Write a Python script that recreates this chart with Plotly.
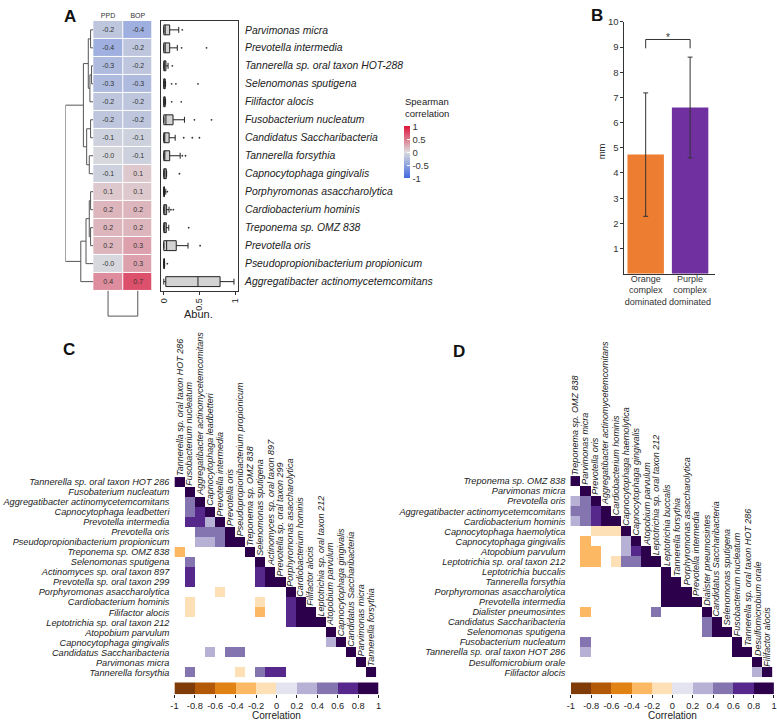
import plotly.graph_objects as go

W, H = 777, 722

# ---------------- Panel A data ----------------
a_species = ["Parvimonas micra", "Prevotella intermedia", "Tannerella sp. oral taxon HOT-288",
             "Selenomonas sputigena", "Filifactor alocis", "Fusobacterium nucleatum",
             "Candidatus Saccharibacteria", "Tannerella forsythia", "Capnocytophaga gingivalis",
             "Porphyromonas asaccharolytica", "Cardiobacterium hominis", "Treponema sp. OMZ 838",
             "Prevotella oris", "Pseudopropionibacterium propionicum",
             "Aggregatibacter actinomycetemcomitans"]
a_cols = ["PPD", "BOP"]
a_ppd = [-0.2, -0.4, -0.3, -0.3, -0.2, -0.2, -0.1, -0.04, -0.1, 0.1, 0.2, 0.2, 0.2, -0.04, 0.4]
a_bop = [-0.4, -0.2, -0.2, -0.3, -0.2, -0.2, -0.1, -0.1, 0.1, 0.1, 0.2, 0.2, 0.3, 0.3, 0.7]

box_lo = [0, 0, 0, 0, 0, 0, 0, 0, 0, 0, 0, 0, 0, 0, 0]
box_q1 = [0, 0, 0, 0, 0, 0, 0, 0, 0, 0, 0, 0, 0, 0, 0.028]
box_med = [0.02, 0.02, 0.01, 0.005, 0.005, 0.03, 0.01, 0.015, 0.015, 0.003, 0.015, 0.012, 0.04, 0.003, 0.48]
box_q3 = [0.083, 0.083, 0.03, 0.02, 0.02, 0.13, 0.075, 0.083, 0.035, 0.01, 0.04, 0.035, 0.175, 0.01, 0.79]
box_hi = [0.21, 0.19, 0.06, 0.025, 0.025, 0.29, 0.16, 0.23, 0.04, 0.028, 0.074, 0.07, 0.34, 0.012, 0.985]
out_row = [0, 1, 1, 2, 3, 3, 3, 4, 4, 5, 5, 6, 6, 6, 7, 7, 8, 9, 10, 10, 11, 12, 13]
out_val = [0.26, 0.25, 0.60, 0.12, 0.11, 0.17, 0.48, 0.11, 0.245, 0.43, 0.67, 0.28, 0.40, 0.50,
           0.26, 0.305, 0.22, 0.05, 0.10, 0.134, 0.35, 0.51, 0.05]

# dendrogram merges (child a, child b, height)
row_merges = [("r0", "r1", 8), ("r2", "r3", 5), ("m1", "r4", 10), ("m0", "m2", 15),
              ("r5", "r6", 8), ("r7", "r8", 12), ("m4", "m5", 20), ("m3", "m6", 30),
              ("r9", "r10", 8), ("r11", "r12", 8), ("m8", "m9", 12), ("m10", "r13", 22),
              ("m11", "r14", 38), ("m7", "m12", 85)]
col_merges = [("c0", "c1", 10)]

# ---------------- Panel B data ----------------
b_groups = ["Orange<br>complex<br>dominated", "Purple<br>complex<br>dominated"]
b_mean = [4.73, 6.6]
b_sd = [2.45, 2.0]
b_colors = ["#ED7D31", "#7030A0"]
b_bracket_x = [0, 0, 1, 1]
b_bracket_y = [8.95, 9.3, 9.3, 8.95]
b_ticks = [1, 2, 3, 4, 5, 6, 7, 8, 9, 10]

# ---------------- Panel C data ----------------
c_cols = ["Tannerella sp. oral taxon HOT 286", "Fusobacterium nucleatum",
          "Aggregatibacter actinomycetemcomitans", "Capnocytophaga leadbetteri",
          "Prevotella intermedia", "Prevotella oris", "Pseudopropionibacterium propionicum",
          "Treponema sp. OMZ 838", "Selenomonas sputigena", "Actinomyces sp. oral taxon 897",
          "Prevotella sp. oral taxon 299", "Porphyromonas asaccharolytica",
          "Cardiobacterium hominis", "Filifactor alocis", "Leptotrichia sp. oral taxon 212",
          "Atopobium parvulum", "Capnocytophaga gingivalis", "Candidatus Saccharibacteria",
          "Parvimonas micra", "Tannerella forsythia"]
c_rows = ["Tannerella sp. oral taxon HOT 286", "Fusobaterium nucleatum",
          "Aggregatibacter actinomycetemcomitans", "Capnocytophaga leadbetteri",
          "Prevotella intermedia", "Prevotella oris", "Pseudopropionibacterium propionicum",
          "Treponema sp. OMZ 838", "Selenomonas sputigena", "Actinomyces sp. oral taxon 897",
          "Prevotella sp. oral taxon 299", "Porphyromonas asaccharolytica",
          "Cardiobacterium hominis", "Filifactor alocis", "Leptotrichia sp. oral taxon 212",
          "Atopobium parvulum", "Capnocytophaga gingivalis", "Candidatus Saccharibacteria",
          "Parvimonas micra", "Tannerella forsythia"]
c_cells = [(0, 0, 1), (1, 1, 1),
           (2, 1, 0.5), (2, 2, 1),
           (3, 1, 0.5), (3, 2, 0.7), (3, 3, 1),
           (4, 1, 0.7), (4, 2, 0.7), (4, 3, 0.3), (4, 4, 1),
           (5, 2, 0.5), (5, 3, 0.5), (5, 4, 0.5), (5, 5, 1),
           (6, 2, 0.3), (6, 3, 0.3), (6, 4, 0.5), (6, 5, 0.9), (6, 6, 1),
           (7, 0, -0.3), (7, 7, 1),
           (8, 1, 0.5), (8, 8, 1),
           (9, 1, 0.7), (9, 8, 0.7), (9, 9, 1),
           (10, 1, 0.7), (10, 8, 0.7), (10, 9, 0.9), (10, 10, 1),
           (11, 4, -0.1), (11, 11, 1),
           (12, 1, -0.1), (12, 8, -0.1), (12, 11, 0.7), (12, 12, 1),
           (13, 1, -0.1), (13, 8, -0.3), (13, 11, 0.7), (13, 12, 0.9), (13, 13, 1),
           (14, 11, 0.7), (14, 12, 0.9), (14, 13, 0.9), (14, 14, 1),
           (15, 15, 1),
           (16, 15, 0.3), (16, 16, 1),
           (17, 3, 0.3), (17, 5, 0.5), (17, 6, 0.5), (17, 17, 1),
           (18, 18, 1),
           (19, 1, 0.5), (19, 6, -0.1), (19, 8, 0.5), (19, 9, 0.7), (19, 10, 0.7), (19, 19, 1)]

# ---------------- Panel D data ----------------
d_names = ["Treponema sp. OMZ 838", "Parvimonas micra", "Prevotella oris",
           "Aggregatibacter actinomycetemcomitans", "Cardiobacterium hominis",
           "Capnocytophaga haemolytica", "Capnocytophaga gingivalis", "Atopobium parvulum",
           "Leptotrichia sp. oral taxon 212", "Leptotrichia buccalis", "Tannerella forsythia",
           "Porphyromonas asaccharolytica", "Prevotella intermedia", "Dialister pneumosintes",
           "Candidatus Saccharibacteria", "Selenomonas sputigena", "Fusobacterium nucleatum",
           "Tannerella sp. oral taxon HOT 286", "Desulfomicrobium orale", "Filifactor alocis"]
d_cells = [(0, 0, 1), (1, 1, 1),
           (2, 0, 0.3), (2, 1, 0.5), (2, 2, 1),
           (3, 0, 0.5), (3, 1, 0.5), (3, 2, 0.7), (3, 3, 1),
           (4, 0, 0.3), (4, 1, 0.5), (4, 2, 0.7), (4, 3, 0.9), (4, 4, 1),
           (5, 2, -0.1), (5, 3, -0.1), (5, 4, -0.1), (5, 5, 1),
           (6, 1, -0.3), (6, 5, 0.3), (6, 6, 1),
           (7, 1, -0.3), (7, 2, -0.3), (7, 5, 0.3), (7, 6, 0.7), (7, 7, 1),
           (8, 1, -0.3), (8, 2, -0.3), (8, 4, -0.1), (8, 5, 0.5), (8, 6, 0.5), (8, 7, 0.9), (8, 8, 1),
           (9, 9, 1),
           (10, 9, 0.9), (10, 10, 1),
           (11, 9, 0.9), (11, 10, 0.9), (11, 11, 1),
           (12, 9, 0.9), (12, 10, 0.9), (12, 11, 0.9), (12, 12, 1),
           (13, 1, -0.3), (13, 8, 0.5), (13, 13, 1),
           (14, 13, 0.5), (14, 14, 1),
           (15, 13, 0.5), (15, 14, 0.9), (15, 15, 1),
           (16, 1, 0.5), (16, 16, 1),
           (17, 1, 0.3), (17, 16, 0.9), (17, 17, 1),
           (18, 18, 1),
           (19, 18, 0.3), (19, 19, 1)]

corr_bins = [-0.9, -0.7, -0.5, -0.3, -0.1, 0.1, 0.3, 0.5, 0.7, 0.9]
corr_colors = ["#7f3b08", "#b35806", "#e08214", "#fdb863", "#fee0b6",
               "#e4e4f1", "#b7b1d6", "#8474b0", "#57288c", "#2d004b"]
corr_ticks = [-1, -0.8, -0.6, -0.4, -0.2, 0, 0.2, 0.4, 0.6, 0.8, 1]
corr_ticktext = ["-1", "-0.8", "-0.6", "-0.4", "-0.2", "0", "0.2", "0.4", "0.6", "0.8", "1"]

spearman_scale = [[0, "#4169E1"], [0.5, "#DDDDDD"], [1, "#DC143C"]]

# ---------------- helpers ----------------
def dx(a, b):
    return [a / W, b / W]

def dy(t, b):
    return [1 - b / H, 1 - t / H]

def ax(domain, **kw):
    base = dict(domain=domain, showgrid=False, zeroline=False, showticklabels=False,
                ticks="", showline=False, fixedrange=True)
    base.update(kw)
    return base

disc_scale = []
for i, c in enumerate(corr_colors):
    disc_scale.append([i / 10, c])
    disc_scale.append([(i + 1) / 10, c])

def build_matrix(cells, n):
    z = [[None] * n for _ in range(n)]
    for r, c, v in cells:
        z[r][c] = v
    return z

TXT = "#222"
fig = go.Figure()

# ---- Panel A heatmap ----
z_a = [[p, b] for p, b in zip(a_ppd, a_bop)]
t_a = [[f"{p:.1f}", f"{b:.1f}"] for p, b in zip(a_ppd, a_bop)]
fig.add_trace(go.Heatmap(
    z=z_a, x=[0, 1], y=list(range(len(a_species))), text=t_a, texttemplate="%{text}",
    textfont=dict(size=7, color="#333"), colorscale=spearman_scale, zmin=-1, zmax=1,
    xgap=1, ygap=1, xaxis="x", yaxis="y",
    colorbar=dict(x=404 / W, xanchor="left", y=1 - 147.5 / H, yanchor="middle",
                  len=52, lenmode="pixels", thickness=6, thicknessmode="pixels",
                  outlinewidth=0, xpad=0, ypad=0,
                  tickvals=[-1, -0.5, 0, 0.5, 1], ticktext=["-1", "-0.5", "0", "0.5", "1"],
                  ticks="inside", ticklen=3, tickcolor="white",
                  tickfont=dict(size=9.5, color="#333"))))

# ---- Panel A boxplots ----
fig.add_trace(go.Box(
    y=list(range(len(a_species))), q1=box_q1, median=box_med, q3=box_q3,
    lowerfence=box_lo, upperfence=box_hi, orientation="h",
    xaxis="x2", yaxis="y2", fillcolor="#d3d3d3", line=dict(color="#222", width=1),
    width=0.55, whiskerwidth=0.6, boxpoints=False, showlegend=False, hoverinfo="skip"))
fig.add_trace(go.Scatter(x=out_val, y=out_row, mode="markers", xaxis="x2", yaxis="y2",
                         marker=dict(size=1.8, color="#333"), showlegend=False, hoverinfo="skip"))

# ---- Panel A dendrograms ----
def dendro(merges, prefix, n, swap=False):
    nodes = {f"{prefix}{i}": (0, i) for i in range(n)}
    hs, ps = [], []
    for k, (a, b, h) in enumerate(merges):
        ha, pa = nodes[a]
        hb, pb = nodes[b]
        hs += [ha, h, h, hb, None]
        ps += [pa, pa, pb, pb, None]
        nodes[f"m{k}"] = (h, (pa + pb) / 2)
    return (ps, hs) if swap else (hs, ps)

rx, ry = dendro(row_merges, "r", len(a_species))
fig.add_trace(go.Scatter(x=rx, y=ry, mode="lines", xaxis="x3", yaxis="y3",
                         line=dict(color="#555", width=1), showlegend=False, hoverinfo="skip"))
cx, cy = dendro(col_merges, "c", 2, swap=True)
fig.add_trace(go.Scatter(x=cx, y=cy, mode="lines", xaxis="x4", yaxis="y4",
                         line=dict(color="#555", width=1), showlegend=False, hoverinfo="skip"))

# ---- Panel B ----
fig.add_trace(go.Bar(x=[0, 1], y=b_mean, width=0.82, marker=dict(color=b_colors, line=dict(width=0)),
                     error_y=dict(type="data", array=b_sd, visible=True, color="#333",
                                  thickness=1, width=2.5),
                     xaxis="x5", yaxis="y5", showlegend=False, hoverinfo="skip"))
fig.add_trace(go.Scatter(x=b_bracket_x, y=b_bracket_y, mode="lines", xaxis="x5", yaxis="y5",
                         line=dict(color="#333", width=1), showlegend=False, hoverinfo="skip"))

# ---- Panels C and D heatmaps + colorbars ----
fig.add_trace(go.Heatmap(z=build_matrix(c_cells, 20), x=list(range(20)), y=list(range(20)),
                         colorscale=disc_scale, zmin=-1, zmax=1, showscale=False,
                         hoverongaps=False, xaxis="x6", yaxis="y6"))
fig.add_trace(go.Heatmap(z=[corr_bins], x=corr_bins, y=[0], colorscale=disc_scale, zmin=-1, zmax=1,
                         showscale=False, xaxis="x7", yaxis="y7", hoverinfo="skip"))
fig.add_trace(go.Heatmap(z=build_matrix(d_cells, 20), x=list(range(20)), y=list(range(20)),
                         colorscale=disc_scale, zmin=-1, zmax=1, showscale=False,
                         hoverongaps=False, xaxis="x8", yaxis="y8"))
fig.add_trace(go.Heatmap(z=[corr_bins], x=corr_bins, y=[0], colorscale=disc_scale, zmin=-1, zmax=1,
                         showscale=False, xaxis="x9", yaxis="y9", hoverinfo="skip"))

cbar_x = dict(range=[-1, 1], ticks="outside", ticklen=3, tickcolor="#222", showticklabels=True,
              tickvals=corr_ticks, ticktext=corr_ticktext, tickfont=dict(size=9.3, color=TXT),
              showline=False, ticklabeloverflow="allow")

layout_axes = dict(
    xaxis=ax(dx(90, 150), range=[-0.5, 1.5], anchor="y", side="top", showticklabels=True,
             tickvals=[0, 1], ticktext=a_cols, tickfont=dict(size=7, color="#333")),
    yaxis=ax(dy(15, 287), range=[14.5, -0.5], anchor="x"),
    xaxis2=ax(dx(158, 236), range=[-0.045, 1.04], anchor="y2", showline=True, mirror=True,
              linecolor="#333", linewidth=1, ticks="outside", ticklen=3, tickcolor="#333",
              showticklabels=True, tickvals=[0, 0.5, 1], ticktext=["0", "0.5", "1"],
              tickangle=-90, tickfont=dict(size=9, color=TXT)),
    yaxis2=ax(dy(15, 287), range=[14.5, -0.5], anchor="x2", side="right", showline=True,
              mirror=True, linecolor="#333", linewidth=1, showticklabels=True,
              tickvals=list(range(len(a_species))), ticktext=[f"<i>{s}</i>" for s in a_species],
              tickfont=dict(size=10.4, color=TXT), ticklabelstandoff=4),
    xaxis3=ax(dx(62, 90), range=[85, 0], anchor="y3"),
    yaxis3=ax(dy(15, 287), range=[14.5, -0.5], anchor="x3"),
    xaxis4=ax(dx(90, 150), range=[-0.5, 1.5], anchor="y4"),
    yaxis4=ax(dy(287, 314), range=[10.5, 0], anchor="x4"),
    xaxis5=ax(dx(626, 717), range=[-0.48, 1.55], anchor="y5", showline=True, linecolor="#333",
              showticklabels=True, tickvals=[0, 1], ticktext=b_groups,
              tickfont=dict(size=9, color="#333"), ticklabelstandoff=-4),
    yaxis5=ax(dy(16, 270), range=[0, 10], anchor="x5", showline=True, linecolor="#333",
              ticks="outside", ticklen=3, tickcolor="#333", showticklabels=True,
              tickvals=b_ticks, tickfont=dict(size=9.5, color="#333")),
    xaxis6=ax(dx(172, 375.5), range=[-0.5, 19.5], anchor="y6"),
    yaxis6=ax(dy(475, 677), range=[19.5, -0.5], anchor="x6", showticklabels=True,
              tickvals=list(range(20)), ticktext=[f"<i>{s}</i>" for s in c_rows],
              tickfont=dict(size=9.2, color=TXT), ticklabelstandoff=4),
    xaxis7=ax(dx(172, 378), anchor="y7", **cbar_x),
    yaxis7=ax(dy(682, 694), range=[-0.5, 0.5], anchor="x7"),
    xaxis8=ax(dx(571.5, 775.5), range=[-0.5, 19.5], anchor="y8"),
    yaxis8=ax(dy(474, 677), range=[19.5, -0.5], anchor="x8", showticklabels=True,
              tickvals=list(range(20)), ticktext=[f"<i>{s}</i>" for s in d_names],
              tickfont=dict(size=9.2, color=TXT), ticklabelstandoff=4),
    xaxis9=ax(dx(572, 777), anchor="y9", **cbar_x),
    yaxis9=ax(dy(682, 694), range=[-0.5, 0.5], anchor="x9"),
)

ann = []
def label(text, x, y, size, bold=False, **kw):
    t = f"<b>{text}</b>" if bold else text
    d = dict(text=t, x=x / W, y=1 - y / H, xref="paper", yref="paper", showarrow=False,
             font=dict(size=size, color="#111" if bold else TXT), xanchor="center", yanchor="middle")
    d.update(kw)
    ann.append(d)

label("A", 67, 11, 17, bold=True)
label("B", 598, 10, 17, bold=True)
label("C", 66, 346, 17, bold=True)
label("D", 459, 348, 17, bold=True)
label("Abun.", 196, 311, 11)
label("mm", 603, 147, 9.5, textangle=-90)
label("Spearman<br>correlation", 404, 114.5, 9.5, xanchor="left", yanchor="bottom",
      align="left", borderpad=0)
label("Correlation", 275, 722, 10, yanchor="bottom", borderpad=0)
label("Correlation", 675, 722, 10, yanchor="bottom", borderpad=0)

ann.append(dict(text="*", x=0.5, y=9.37, xref="x5", yref="y5", showarrow=False,
                font=dict(size=10, color="#333"), xanchor="center", yanchor="middle"))

for j, name in enumerate(c_cols):
    ann.append(dict(text=f"<i>{name}</i>", x=j, y=j - 0.5, xref="x6", yref="y6", showarrow=False,
                    textangle=-90, xanchor="center", yanchor="bottom",
                    font=dict(size=9, color=TXT), borderpad=0))
for j, name in enumerate(d_names):
    ann.append(dict(text=f"<i>{name}</i>", x=j, y=j - 0.5, xref="x8", yref="y8", showarrow=False,
                    textangle=-90, xanchor="center", yanchor="bottom",
                    font=dict(size=9, color=TXT), borderpad=0))

fig.update_layout(
    width=W, height=H, margin=dict(l=0, r=0, t=0, b=0), autosize=False,
    paper_bgcolor="white", plot_bgcolor="white",
    font=dict(family="Arial, Liberation Sans, sans-serif", color=TXT),
    showlegend=False, annotations=ann, **layout_axes)

fig.write_html("out.html")
